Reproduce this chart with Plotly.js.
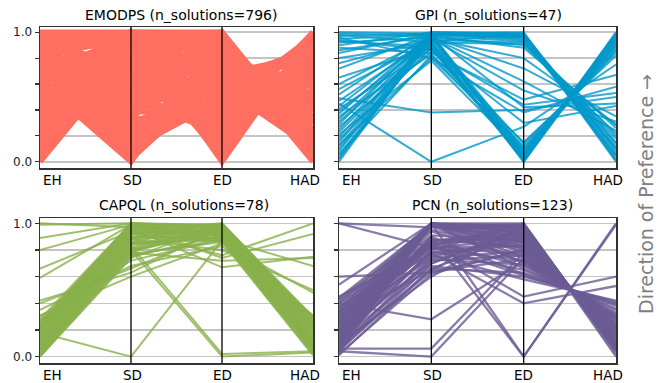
<!DOCTYPE html>
<html><head><meta charset="utf-8">
<script src="https://cdn.plot.ly/plotly-3.0.1.min.js"></script>
<style>html,body{margin:0;padding:0;background:#fff}#chart{width:667px;height:383px}</style>
</head><body><div id="chart"></div>
<script>
const categories = ['EH','SD','ED','HAD'];

// EMODPS (n_solutions=796) - representative solutions
const emodpsEH = [0.00,0.00,0.02,0.03,0.05,0.06,0.08,0.10,0.11,0.13, 0.15,0.16,0.18,0.20,0.21,0.23,0.25,0.26,0.28,0.30, 0.31,0.33,0.35,0.36,0.38,0.40,0.41,0.43,0.45,0.46, 0.48,0.50,0.51,0.53,0.55,0.56,0.58,0.60,0.61,0.63, 0.65,0.66,0.68,0.70,0.71,0.73,0.75,0.76,0.78,0.80, 0.81,0.83,0.85,0.86,0.88,0.90,0.91,0.93,0.95,0.96, 0.98,1.00,0.99,0.97,0.94,0.89,0.84,0.74,0.69,0.64, 0.54,0.44,0.34,0.24,0.14,0.04,0.01,0.19,0.29,0.39, 0.97,0.90,0.95,0.85,0.99,0.93,0.80,0.70,0.93,0.86, 0.87,0.80];
const emodpsSD = [0.85,1.00,0.95,0.90,0.80,0.98,0.75,0.88,0.70,0.93, 0.65,0.83,0.60,0.97,0.55,0.78,0.50,0.90,0.68,0.45, 1.00,0.58,0.40,0.85,0.35,0.92,0.30,0.62,0.25,0.95, 0.20,0.52,0.15,0.82,0.10,0.66,0.05,0.88,0.00,0.28, 0.74,0.08,0.48,0.92,0.18,0.58,0.02,0.42,0.86,0.12, 0.64,0.33,0.96,0.22,0.54,0.76,0.36,0.04,0.70,0.27, 0.84,1.00,0.46,0.60,0.99,0.14,0.50,0.80,0.32,0.94, 0.72,0.56,0.82,0.99,0.76,0.92,0.87,0.68,0.62,0.44, 0.93,0.97,0.90,0.99,0.95,1.00,0.98,0.96,0.92,0.96, 0.91,0.97];
const emodpsED = [0.10,0.00,0.55,0.85,0.30,1.00,0.65,0.20,0.45,0.75, 0.90,0.05,0.35,0.60,0.80,0.15,0.50,0.95,0.25,0.70, 0.40,0.85,0.30,0.58,0.95,0.02,0.55,0.78,0.40,0.12, 0.85,0.65,0.62,0.92,0.48,0.28,0.75,0.08,0.98,0.60, 0.35,0.88,0.22,0.70,0.52,1.00,0.67,0.45,0.18,0.82, 0.38,0.96,0.25,0.58,0.90,0.10,0.72,0.62,0.50,0.42, 0.80,1.00,0.32,0.88,0.97,0.70,0.27,0.62,0.44,0.68, 0.54,0.36,0.10,0.82,0.96,0.74,0.42,0.15,0.93,0.58, 0.95,0.90,0.99,0.93,0.86,0.99,0.94,0.97,0.96,0.98, 0.95,0.91];
const emodpsHAD = [0.90,1.00,0.40,0.20,0.70,0.05,0.30,0.85,0.55,0.10, 0.25,0.95,0.65,0.50,0.05,0.92,0.45,0.15,0.78,0.35, 0.60,0.00,0.72,0.62,0.10,0.99,0.30,0.45,0.50,0.82, 0.25,0.15,0.60,0.05,0.75,0.55,0.40,0.93,0.08,0.85, 0.48,0.30,0.70,0.20,0.90,0.12,0.20,0.35,0.75,0.52, 0.80,0.02,0.62,0.10,0.35,0.97,0.65,0.45,0.25,0.92, 0.58,0.14,0.80,0.18,0.06,0.75,1.00,0.88,0.97,0.82, 0.90,0.95,0.86,0.40,0.20,0.60,0.78,0.95,0.30,0.72, 0.18,0.30,0.08,0.22,0.40,0.12,0.15,0.05,0.20,0.10, 0.12,0.30];

// GPI (n_solutions=47)
const gpiEH = [0.00,0.02,0.03,0.05,0.06,0.08,0.10,0.12,0.13,0.15, 0.17,0.19,0.21,0.23,0.25,0.27,0.29,0.31,0.33,0.35, 0.37,0.39,0.41,0.43,0.45,0.49,0.52,0.56,0.60,0.65, 0.72,0.76,0.80,0.84,0.86,0.88,0.90,0.92,0.93,0.95, 0.96,0.97,0.98,0.99,1.00,0.94,0.47];
const gpiSD = [0.97,0.99,0.95,0.98,0.82,1.00,0.92,0.97,0.80,0.99, 0.88,0.96,0.78,0.93,0.98,0.85,1.00,0.90,0.97,0.83, 0.99,0.94,0.87,0.98,0.00,0.38,0.99,0.93,0.96,0.88, 0.98,0.95,0.91,0.99,0.97,0.84,1.00,0.96,0.89,0.98, 0.80,0.99,0.92,0.97,0.99,0.86,0.95];
const gpiED = [0.02,0.98,0.05,0.95,0.08,0.99,0.00,0.93,0.12,0.97, 0.03,0.90,0.06,0.98,0.10,0.44,0.96,0.02,0.88,0.15, 0.00,0.92,0.04,0.42,0.27,0.40,0.97,0.08,0.72,0.01, 0.98,0.55,0.14,0.94,0.05,0.48,0.99,0.62,0.10,0.96, 0.38,0.03,0.91,0.07,1.00,0.30,0.80];
const gpiHAD = [0.98,0.02,0.95,0.05,0.90,0.08,1.00,0.10,0.86,0.15, 0.97,0.22,0.92,0.00,0.88,0.53,0.12,0.99,0.28,0.82, 0.96,0.18,0.94,0.45,0.75,0.50,0.04,0.91,0.35,0.97, 0.06,0.31,0.84,0.20,0.93,0.67,0.10,0.24,0.89,0.14, 0.58,0.99,0.26,0.86,0.01,0.43,0.29];

// CAPQL (n_solutions=78)
const capqlEH = [0.00,0.01,0.02,0.03,0.04,0.05,0.06,0.07,0.08,0.09, 0.10,0.11,0.12,0.13,0.14,0.15,0.16,0.17,0.18,0.19, 0.20,0.21,0.22,0.23,0.24,0.25,0.26,0.28,0.02,0.05, 0.09,0.13,0.17,0.21,0.24,0.00, 1.00,0.99,0.89,0.80,0.66,0.59,0.42,0.40,0.31,0.18, 0.10,0.06,0.22,0.30,0.27,0.14,0.20,0.35];
const capqlSD = [0.76,0.80,0.78,0.84,0.79,0.82,0.86,0.81,0.88,0.84, 0.90,0.86,0.92,0.88,0.94,0.90,0.96,0.92,0.97,0.94, 0.99,0.95,0.98,1.00,0.97,1.00,0.99,1.00,0.75,0.77, 0.80,0.85,0.89,0.93,0.95,0.74, 0.97,1.00,1.00,0.99,0.94,0.99,0.63,0.66,0.60,0.00, 0.83,0.80,0.96,0.72,0.78,0.88,0.92,0.68];
const capqlED = [0.88,0.93,0.97,0.90,1.00,0.95,0.87,0.99,0.92,0.96, 0.89,0.98,0.94,1.00,0.91,0.97,0.93,0.99,0.88,0.95, 0.90,1.00,0.94,0.97,0.92,0.99,0.96,0.98,0.91,0.86, 0.94,0.89,0.96,0.93,0.87,0.99, 0.98,0.93,0.96,0.90,0.76,0.74,0.97,0.95,0.85,0.87, 0.02,0.00,0.67,0.88,0.72,0.80,0.86,0.83];
const capqlHAD = [0.03,0.10,0.18,0.06,0.28,0.14,0.02,0.25,0.09,0.20, 0.05,0.22,0.12,0.30,0.08,0.17,0.11,0.26,0.04,0.15, 0.07,0.27,0.13,0.21,0.10,0.24,0.19,0.23,0.06,0.01, 0.16,0.07,0.22,0.12,0.03,0.29, 0.08,0.15,0.05,0.20,1.00,0.92,0.10,0.25,0.48,0.30, 0.04,0.03,0.75,0.68,0.74,0.50,0.31,0.26];

// PCN (n_solutions=123)
const pcnEH = [0.03,0.05,0.07,0.09,0.11,0.13,0.15,0.17,0.19,0.21, 0.23,0.25,0.27,0.29,0.31,0.33,0.35,0.37,0.40,0.44, 0.02,0.04,0.05,0.07,0.08,0.10,0.12,0.13,0.15,0.17, 0.18,0.20,0.22,0.24,0.25,0.27,0.29,0.30,0.32,0.34, 0.36,0.38,0.40,0.42,0.45,0.10,0.06,0.14,0.26,0.33, 0.19,0.43,0.01,0.28, 1.00,1.00,0.60,0.54,0.06,0.04,0.40,0.20,0.15,0.30,0.12];
const pcnSD = [1.00,0.99,1.00,0.98,1.00,0.99,1.00,0.98,1.00,0.99, 1.00,0.98,1.00,0.99,1.00,0.98,1.00,0.99,1.00,0.99, 0.62,0.70,0.66,0.75,0.64,0.80,0.68,0.84,0.72,0.78, 0.86,0.70,0.82,0.76,0.87,0.74,0.83,0.79,0.85,0.81, 0.86,0.77,0.84,0.87,0.82,0.60,0.73,0.88,0.94,0.91, 0.90,0.95,0.66,0.65, 0.97,0.82,0.63,1.00,0.06,0.00,0.28,1.00,0.90,0.85,0.78];
const pcnED = [0.98,0.83,0.93,0.71,1.00,0.88,0.78,0.96,0.66,0.90, 0.85,0.99,0.75,0.94,0.81,0.97,0.70,0.91,0.86,0.98, 0.80,0.95,0.63,0.88,0.73,0.99,0.60,0.92,0.76,0.86, 0.68,0.97,0.83,0.58,0.93,0.79,1.00,0.65,0.89,0.72, 0.96,0.84,0.61,0.90,0.77,0.99,0.69,0.82,0.74,0.87, 0.62,0.80,0.92,0.99, 0.98,0.88,0.80,0.93,0.78,0.74,0.72,0.00,0.00,0.45,0.40];
const pcnHAD = [0.06,0.20,0.11,0.30,0.04,0.15,0.24,0.08,0.35,0.13, 0.18,0.05,0.27,0.09,0.21,0.07,0.32,0.12,0.17,0.05, 0.22,0.09,0.38,0.15,0.29,0.05,0.41,0.11,0.26,0.17, 0.33,0.07,0.20,0.42,0.10,0.23,0.04,0.36,0.14,0.30, 0.08,0.19,0.40,0.13,0.25,0.00,0.31,0.21,0.28,0.16, 0.39,0.23,0.12,0.02, 0.06,0.15,0.22,0.10,0.24,0.28,0.30,1.00,0.99,0.60,0.53];

const panels = [
  {name:'EMODPS', n:796, cols:[emodpsEH,emodpsSD,emodpsED,emodpsHAD], color:'rgb(255,111,97)', width:5.5, ax:''},
  {name:'GPI', n:47, cols:[gpiEH,gpiSD,gpiED,gpiHAD], color:'rgba(0,153,202,0.8)', width:2, ax:'2'},
  {name:'CAPQL', n:78, cols:[capqlEH,capqlSD,capqlED,capqlHAD], color:'rgba(136,176,75,0.8)', width:2, ax:'3'},
  {name:'PCN', n:123, cols:[pcnEH,pcnSD,pcnED,pcnHAD], color:'rgba(107,91,149,0.8)', width:2.3, ax:'4'}
];

const traces = [];
panels.forEach(p => {
  const nRows = p.cols[0].length;
  for (let i = 0; i < nRows; i++) {
    traces.push({
      type:'scatter', mode:'lines',
      x: categories,
      y: p.cols.map(c => c[i]),
      line:{color:p.color, width:p.width},
      hoverinfo:'skip', showlegend:false, cliponaxis:true,
      xaxis:'x'+p.ax, yaxis:'y'+p.ax
    });
  }
});

const colX = [[40/667, 313/667], [339/667, 616/667]];
const rowY = [[1-168/383, 1-27/383], [1-363/383, 1-218/383]];
const font = 'DejaVu Sans, sans-serif';

function xaxis(dom, anchor){
  return {domain:dom, anchor:anchor, type:'category', categoryorder:'array', categoryarray:categories,
    range:[0,3], showgrid:false, zeroline:false, showticklabels:false, ticks:'',
    showline:true, mirror:true, linecolor:'#333', linewidth:1.5, fixedrange:true};
}
function yaxis(dom, anchor, labels){
  return {domain:dom, anchor:anchor, range:[-0.048,1.04], tickvals:[0,0.2,0.4,0.6,0.8,1.0],
    ticktext: labels ? ['0.0','','','','','1.0'] : ['','','','','',''],
    showgrid:true, gridcolor:'#c4c4c4', gridwidth:1.5, zeroline:false,
    ticks:'outside', ticklen:4, tickwidth:1.2, tickcolor:'#333',
    showline:true, mirror:true, linecolor:'#333', linewidth:1.5,
    tickfont:{family:font, size:12, color:'#222'}, fixedrange:true};
}

const layout = {
  width:667, height:383, margin:{l:0,r:0,t:0,b:0},
  paper_bgcolor:'#fff', plot_bgcolor:'#fff', font:{family:font},
  xaxis: xaxis(colX[0], 'y'), yaxis: yaxis(rowY[0], 'x', true),
  xaxis2: xaxis(colX[1], 'y2'), yaxis2: yaxis(rowY[0], 'x2', false),
  xaxis3: xaxis(colX[0], 'y3'), yaxis3: yaxis(rowY[1], 'x3', true),
  xaxis4: xaxis(colX[1], 'y4'), yaxis4: yaxis(rowY[1], 'x4', false),
  shapes: [], annotations: []
};

const titleX = [182/667, 488/667, 184/667, 492/667];
const titleY = [1-14.5/383, 1-14.5/383, 1-205/383, 1-205/383];
const labelShift = [12, 1, 0, -8];
panels.forEach((p, k) => {
  [1, 2].forEach(ci => {
    layout.shapes.push({type:'line', layer:'above', xref:'x'+p.ax, yref:'y'+p.ax+' domain',
      x0:ci, x1:ci, y0:0, y1:1, line:{color:'#000', width:1.3}});
  });
  categories.forEach((c, ci) => {
    layout.annotations.push({xref:'x'+p.ax, yref:'y'+p.ax+' domain', x:ci, y:0, xanchor:'center', yanchor:'top',
      xshift:labelShift[ci], yshift:-2, text:c, showarrow:false, font:{family:font, size:13.5, color:'#000'}});
  });
  layout.annotations.push({xref:'paper', yref:'paper', x:titleX[k], y:titleY[k], xanchor:'center', yanchor:'middle',
    text:p.name+' (n_solutions='+p.n+')', showarrow:false, font:{family:font, size:14, color:'#000'}});
});
layout.annotations.push({xref:'paper', yref:'paper', x:646/667, y:1-194/383, xanchor:'center', yanchor:'middle',
  text:'Direction of Preference \u2192', textangle:-90, showarrow:false,
  font:{family:'DejaVu Sans, sans-serif', size:19, color:'#808080'}});

Plotly.newPlot('chart', traces, layout, {staticPlot:true, displayModeBar:false});
</script>
</body></html>
